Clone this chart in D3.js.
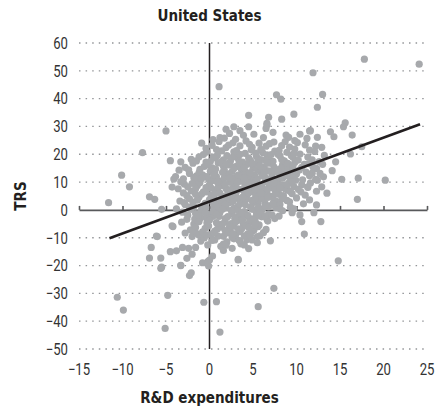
<!DOCTYPE html>
<html>
<head>
<meta charset="utf-8">
<script src="https://cdn.jsdelivr.net/npm/d3@7"></script>
<style>
  html, body { margin: 0; padding: 0; background: #fff; }
  svg text { font-family: "DejaVu Sans Condensed", "Liberation Sans", sans-serif; }
  svg text.tick-label { font-family: Roboto, "Liberation Sans", sans-serif; font-weight: 400; }
</style>
</head>
<body>
<div id="chart"></div>
<script>
// chart values
const title = 'United States';
const xLabel = 'R&D expenditures';
const yLabel = 'TRS';
const xTicks = [-15, -10, -5, 0, 5, 10, 15, 20, 25];
const yTicks = [-50, -40, -30, -20, -10, 0, 10, 20, 30, 40, 50, 60];

// fitted line, two end points [R&D, TRS]
const trend = [[-11.5, -10.2], [24.2, 30.8]];

// outer points (read one by one)
const outerPoints = [
  [4.5,34.0],[6.8,33.3],[8.3,32.6],[9.7,34.4],[7.7,41.4],[8.2,39.8],[12.4,36.9],[13.0,41.5],
  [11.9,49.3],[1.1,44.3],[17.8,54.2],[24.1,52.4],[15.6,31.3],[15.4,29.9],[13.9,28.1],[11.5,28.4],
  [16.4,26.9],[4.5,29.9],[2.8,29.9],[1.9,29.0],[3.5,28.5],[6.6,31.1],[6.5,29.3],[8.8,26.9],
  [6.6,30.5],[11.6,28.5],[12.4,26.1],[11.2,25.7],[9.8,24.9],[17.5,22.7],[12.9,22.5],[16.2,20.1],
  [15.2,11.0],[17.1,11.4],[20.2,10.7],[17.0,3.8],[14.1,14.1],[-5.0,28.4],[14.5,17.3],[14.3,26.3],
  [-7.7,20.6],[-10.1,12.5],[-9.2,8.3],[-11.6,2.6],[-6.9,4.7],[-6.3,3.8],[-5.5,0.2],[-4.5,17.7],
  [-4.1,11.1],[-3.5,14.3],[-4.2,-6.0],
  [11.3,8.3],[12.3,10.8],[13.5,6.0],[12.9,8.3],[11.8,13.2],[12.0,-1.0],[12.3,1.8],[11.5,3.6],
  [9.5,-1.0],[10.6,-4.2],[12.8,-4.2],[10.9,-8.7],[7.0,-11.1],[4.5,-13.9],[5.5,-11.8],[3.5,-11.1],
  [2.6,-13.8],[13.1,11.9],[12.4,10.7],[10.4,-1.8],[5.7,-5.4],
  [-6.0,-9.6],[-6.7,-13.5],[-6.9,-17.3],[-5.6,-17.3],[-5.5,-20.6],[-4.5,-15.0],[-3.8,-14.7],
  [-3.1,-13.5],[-2.4,-13.8],[-1.6,-13.5],[-3.3,-19.9],[-2.6,-17.4],[-2.0,-15.9],[-0.8,-19.0],
  [-0.2,-18.6],[0.35,-16.6],[3.3,-17.8],[14.8,-18.3],[-10.6,-31.4],[-9.9,-36.0],[-4.8,-30.7],
  [-5.1,-42.6],[-0.65,-33.2],[0.8,-33.0],[1.2,-43.9],[5.6,-34.8],[7.4,-28.2],[-2.3,-23.6],
  [-2.1,-22.6],[-5.6,-21.0],[-3.3,-20.0],[-0.1,-20.2],[0,-18.0],[-2.0,-9.6],[-1.5,-8.4],
  [-2.2,-7.2],[-4.3,-5.7],[-6.1,-9.4],[3.3,-18.0],[1.6,-12.3]
];

// dense core, estimated row by row
const corePoints = [
  [1.2,26],[2.3,27.5],[3.9,26.8],[5.1,27.2],[6.2,26],[7.3,27.9],[9.1,26.1],[10.4,27.2],[0.4,25.3],
  [0.3,23.2],[1.1,24.6],[1.9,22.4],[2.7,24.1],[3.5,23],[4.2,24.8],[4.9,22.5],[5.7,24],[6.5,22.9],
  [7.4,24.4],[8.3,23.1],[9.2,22.6],[10.1,24.2],[11.0,23.4],[12.2,22.9],[-0.4,22.1],
  [-1.2,19.1],[-0.3,20.8],[0.6,18.7],[1.4,21.2],[2.0,19.5],[2.8,20.9],[3.3,18.4],[4.1,20.3],
  [4.8,21.6],[5.4,19.2],[6.1,20.6],[6.8,18.6],[7.5,21.1],[8.1,19.4],[8.9,20.7],[9.6,18.9],
  [10.4,20.1],[11.3,19.0],[12.1,21.0],[13.2,19.6],[-2.1,18.2],
  [-2.8,15.3],[-1.9,16.8],[-1.1,14.6],[-0.4,17.2],[0.3,15.1],[1.0,16.9],[1.7,14.4],[2.4,17.5],
  [3.0,15.6],[3.7,14.2],[4.3,16.4],[5.0,15.0],[5.6,17.3],[6.3,15.4],[7.0,16.8],[7.7,14.5],
  [8.4,16.2],[9.1,14.8],[9.8,17.0],[10.6,15.3],[11.4,16.6],[12.3,14.9],[13.0,16.4],[-3.3,17.3],
  [-3.0,11.2],[-2.3,13.1],[-1.6,10.7],[-0.8,12.6],[-0.1,11.0],[0.6,13.3],[1.3,10.4],[2.0,12.2],
  [2.6,13.8],[3.2,11.1],[3.9,12.9],[4.5,10.6],[5.2,12.4],[5.9,13.6],[6.5,11.3],[7.2,12.8],
  [7.9,10.9],[8.6,13.1],[9.3,11.5],[10.0,12.9],[10.7,10.8],[11.5,12.3],[12.2,11.0],[-3.9,12.0],
  [-3.6,7.6],[-2.9,9.3],[-2.1,6.8],[-1.4,8.7],[-0.7,6.5],[0.0,9.1],[0.7,7.2],[1.4,8.8],
  [2.1,6.4],[2.8,9.5],[3.4,7.4],[4.1,8.9],[4.8,6.6],[5.5,9.2],[6.2,7.3],[6.9,8.6],
  [7.6,6.7],[8.3,9.0],[9.0,7.1],[9.7,8.4],[10.5,6.5],[11.3,8.1],[12.3,6.7],[-4.3,8.2],
  [-3.4,3.2],[-2.6,5.1],[-1.9,2.8],[-1.2,4.6],[-0.5,2.4],[0.2,5.3],[0.9,3.1],[1.6,4.8],
  [2.3,2.6],[3.0,5.0],[3.6,3.3],[4.3,5.2],[5.0,2.7],[5.7,4.4],[6.4,2.3],[7.1,4.9],
  [7.8,3.0],[8.5,5.1],[9.2,2.9],[10.0,4.3],[10.8,2.2],[-2.8,1.9],
  [-3.1,-0.8],[-2.3,1.0],[-1.6,-1.3],[-0.9,0.6],[-0.2,-1.6],[0.5,1.2],[1.2,-0.9],[1.9,0.8],
  [2.6,-1.4],[3.3,1.3],[4.0,-0.6],[4.7,1.1],[5.4,-1.1],[6.1,0.4],[6.8,-1.5],[7.6,0.9],
  [8.4,-0.3],[9.3,1.0],[-3.8,0.4],
  [-2.6,-3.4],[-1.8,-5.1],[-1.0,-2.8],[-0.3,-4.7],[0.4,-2.3],[1.1,-5.4],[1.8,-3.1],[2.5,-4.9],
  [3.2,-2.6],[3.9,-5.2],[4.6,-3.0],[5.3,-4.6],[6.0,-2.5],[6.7,-4.0],[-3.2,-4.4],[7.5,-3.1],
  [-2.0,-7.4],[-1.2,-9.1],[-0.5,-6.6],[0.2,-8.8],[0.9,-6.9],[1.6,-9.5],[2.3,-7.2],[3.0,-9.0],
  [3.7,-6.8],[4.4,-8.6],[5.1,-7.3],[5.8,-9.3],[6.5,-7.0],[-2.8,-8.3],
  [-1.0,-11.2],[-0.2,-12.6],[0.6,-10.8],[1.3,-13.1],[2.0,-11.5],[2.8,-10.4],[3.6,-12.2],[4.3,-10.6],[1.6,-14.6],
  // second pass over the densest part
  [0.8,21.7],[2.2,23.3],[3.1,21.3],[4.6,23.6],[5.9,21.8],[6.9,23.8],[8.0,21.4],[8.7,24.6],
  [9.8,21.9],[11.5,21.5],[1.7,25.8],[3.0,25.4],[-0.9,24.0],
  [-1.5,17.6],[-0.7,19.9],[0.1,17.4],[0.9,19.6],[1.6,18.0],[2.3,16.1],[3.1,19.9],[3.8,17.2],
  [4.5,18.7],[5.1,16.5],[5.9,18.1],[6.6,19.8],[7.3,17.5],[7.9,19.9],[8.6,17.6],[9.4,19.6],
  [10.2,17.9],[10.9,16.4],[11.8,18.0],[12.6,17.4],
  [-2.4,14.4],[-1.5,12.2],[-0.6,15.6],[0.1,13.9],[0.8,11.9],[1.6,15.7],[2.2,13.0],[2.9,11.6],
  [3.5,15.3],[4.2,13.5],[4.8,11.9],[5.5,14.5],[6.1,12.2],[6.8,14.0],[7.4,15.5],[8.1,12.3],
  [8.8,15.1],[9.5,12.8],[10.3,14.3],[11.1,13.6],[11.9,15.4],[12.7,13.1],
  [-3.3,10.1],[-2.5,8.3],[-1.8,11.6],[-1.1,9.8],[-0.4,8.0],[0.3,10.5],[1.0,8.1],[1.7,11.5],
  [2.4,9.9],[3.0,8.2],[3.7,10.3],[4.4,11.9],[5.1,9.9],[5.7,8.1],[6.4,10.1],[7.0,11.2],
  [7.7,9.1],[8.4,11.4],[9.1,9.6],[9.9,10.7],[10.6,9.0],[11.6,9.7],
  [-3.0,6.1],[-2.3,4.0],[-1.6,7.6],[-0.9,5.7],[-0.2,7.9],[0.5,4.3],[1.2,6.0],[1.9,7.7],
  [2.6,5.6],[3.3,4.1],[4.0,6.5],[4.6,7.9],[5.3,5.5],[6.0,4.6],[6.6,6.3],[7.3,7.9],
  [8.0,5.6],[8.7,7.6],[9.5,5.8],[10.2,7.4],[11.0,5.3],
  [-2.9,2.6],[-2.1,0.2],[-1.4,3.5],[-0.7,1.5],[0.0,3.7],[0.7,0.3],[1.4,2.2],[2.1,3.9],
  [2.8,0.6],[3.5,2.2],[4.2,3.8],[4.9,0.2],[5.6,2.6],[6.2,3.9],[6.9,1.5],[7.4,3.6],
  [8.1,1.9],[8.9,3.4],[9.7,0.4],
  [-2.5,-1.9],[-1.7,-3.3],[-1.0,-0.5],[-0.3,-3.0],[0.4,-0.4],[1.1,-2.3],[1.8,-4.3],[2.5,-0.2],
  [3.2,-3.9],[3.9,-2.0],[4.6,-4.4],[5.3,-2.6],[6.0,-0.2],[6.6,-3.4],[7.2,-1.9],[8.0,-2.2],
  [-1.6,-6.3],[-0.8,-7.9],[-0.1,-5.8],[0.6,-7.6],[1.4,-6.2],[2.1,-8.3],[2.8,-5.9],[3.5,-7.8],
  [4.2,-5.6],[4.9,-7.7],[5.6,-6.0],[6.2,-8.2],
  [-0.6,-10.1],[0.3,-11.0],[1.0,-9.4],[1.9,-12.7],[2.6,-9.8],[3.4,-11.0],[4.0,-12.6],[4.9,-10.8],[5.5,-9.6],
  // third pass, solid centre
  [0.4,19.0],[1.3,17.2],[2.6,18.8],[3.5,20.0],[4.7,17.8],[5.3,20.4],[6.4,17.9],[7.1,19.9],[8.3,18.1],[9.0,16.7],[9.7,20.2],
  [-0.2,16.2],[0.7,14.7],[1.9,16.4],[2.8,14.9],[3.4,16.9],[4.0,15.1],[4.9,16.7],[5.8,15.8],[6.6,16.9],[7.5,13.8],[8.2,14.9],[9.6,15.9],
  [-1.2,13.4],[-0.3,12.0],[0.5,12.7],[1.5,13.5],[2.3,11.5],[3.3,12.5],[4.0,11.4],[4.7,13.4],[5.5,11.2],[6.3,13.3],[7.1,10.4],[7.9,13.7],[8.9,12.2],[9.7,13.8],
  [-2.0,9.5],[-0.9,11.3],[0.2,7.8],[0.9,10.0],[1.8,9.2],[2.5,7.4],[3.2,9.9],[3.9,7.6],[4.6,9.6],[5.3,7.3],[6.0,8.9],[6.7,7.6],[7.4,9.8],[8.1,7.8],[8.9,9.0],[9.5,10.1],
  [-1.6,5.6],[-0.4,6.5],[0.6,5.7],[1.5,3.6],[2.4,4.9],[3.1,6.6],[3.8,4.6],[4.5,6.2],[5.2,3.9],[5.9,6.0],[6.7,4.5],[7.6,5.8],[8.4,4.0],[9.3,6.6],
  [-1.8,1.3],[-0.4,0.8],[0.4,2.6],[1.0,1.1],[1.8,2.0],[2.7,3.0],[3.3,-0.3],[4.1,1.9],[4.9,3.4],[5.6,0.9],[6.4,1.3],[7.3,2.3],[8.1,0.5],
  [-1.3,-2.1],[-0.5,-0.9],[0.8,-1.6],[1.5,0.2],[2.1,-2.4],[2.9,-3.1],[3.7,-1.2],[4.4,-2.0],[5.0,-3.5],[5.8,-1.4],[6.4,-2.2],
  [-1.2,-4.2],[0.0,-3.6],[0.8,-4.6],[1.5,-5.0],[2.3,-6.0],[3.0,-4.3],[3.8,-3.6],[4.5,-6.3],[5.2,-5.4],
  [-0.3,-9.0],[0.5,-8.3],[1.8,-7.4],[2.7,-8.5],[3.3,-6.8],[4.0,-9.3],[4.7,-9.1]
];

const width = 436, height = 411;
const margin = { top: 43, right: 9, bottom: 62, left: 79 };

const svg = d3.select('#chart')
  .append('svg')
  .attr('width', width)
  .attr('height', height);

const x = d3.scaleLinear()
  .domain([-15, 25])
  .range([margin.left, width - margin.right]);
const y = d3.scaleLinear()
  .domain([-50, 60])
  .range([height - margin.bottom, margin.top]);

const fmt = d => d3.format('')(d).replace('-', '\u2212');

// dotted gridlines
svg.append('g')
  .classed('grid', true)
  .selectAll('line')
  .data(yTicks.filter(d => d !== 0))
  .enter()
  .append('line')
  .attr('x1', x(-15))
  .attr('x2', x(25))
  .attr('y1', d => y(d))
  .attr('y2', d => y(d))
  .style('stroke', '#939598')
  .style('stroke-width', 1.3)
  .style('stroke-dasharray', '1.5,5.1');

// y tick labels (condensed)
svg.append('g')
  .selectAll('text')
  .data(yTicks)
  .enter()
  .append('text')
  .classed('tick-label', true)
  .attr('transform', d => `translate(${x(-15) - 11},${y(d)}) scale(0.82,1)`)
  .attr('dy', '.36em')
  .style('text-anchor', 'end')
  .style('font-size', '16px')
  .style('fill', '#333')
  .text(fmt);

// horizontal axis along TRS = 0, ticks point up
const xAxis = d3.axisTop(x)
  .tickValues(xTicks)
  .tickSize(4)
  .tickSizeOuter(0)
  .tickFormat('');
svg.append('g')
  .classed('x axis', true)
  .attr('transform', `translate(0,${y(0)})`)
  .call(xAxis)
  .call(g => g.selectAll('line, path').style('stroke', '#58595b').style('stroke-width', 1.6));

// x tick labels at the bottom
svg.append('g')
  .selectAll('text')
  .data(xTicks)
  .enter()
  .append('text')
  .classed('tick-label', true)
  .attr('transform', d => `translate(${x(d)},${y(-50) + 20}) scale(0.82,1)`)
  .attr('dy', '.36em')
  .style('text-anchor', 'middle')
  .style('font-size', '16px')
  .style('fill', '#333')
  .text(fmt);

// vertical line at R&D = 0
svg.append('line')
  .attr('x1', x(0))
  .attr('x2', x(0))
  .attr('y1', y(60))
  .attr('y2', y(-50))
  .style('stroke', '#231f20')
  .style('stroke-width', 1.5);

// points
const allPoints = outerPoints.concat(corePoints);
svg.append('g')
  .classed('points', true)
  .selectAll('circle')
  .data(allPoints)
  .enter()
  .append('circle')
  .attr('cx', d => x(d[0]))
  .attr('cy', d => y(d[1]))
  .attr('r', 3.6)
  .style('fill', '#a7a9ac');

// trend line
svg.append('path')
  .datum(trend)
  .attr('d', d3.line().x(d => x(d[0])).y(d => y(d[1])))
  .style('fill', 'none')
  .style('stroke', '#231f20')
  .style('stroke-width', 2.6);

// titles
svg.append('text')
  .attr('x', x(0))
  .attr('y', 21)
  .style('text-anchor', 'middle')
  .style('font-size', '15px')
  .style('font-weight', 'bold')
  .style('fill', '#231f20')
  .text(title);

svg.append('text')
  .attr('x', x(0))
  .attr('y', 403)
  .style('text-anchor', 'middle')
  .style('font-size', '15px')
  .style('font-weight', 'bold')
  .style('fill', '#231f20')
  .text(xLabel);

svg.append('text')
  .attr('transform', `translate(26,${y(5)}) rotate(-90)`)
  .style('text-anchor', 'middle')
  .style('font-size', '15px')
  .style('font-weight', 'bold')
  .style('fill', '#231f20')
  .text(yLabel);
</script>
</body>
</html>
